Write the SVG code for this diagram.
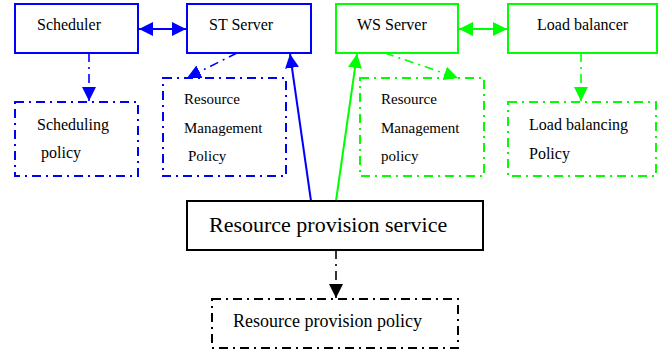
<svg xmlns="http://www.w3.org/2000/svg" width="666" height="354" viewBox="0 0 666 354">
<style>
text{font-family:"Liberation Serif","Times New Roman",serif;fill:#000}
.t{font-size:16px}
.s{font-size:15px}
.box{fill:#fff;stroke-width:2}
.dd{fill:none;stroke-width:2;stroke-dasharray:9 5 2 5}
.b{stroke:#0000ff}
.g{stroke:#00ff00}
.k{stroke:#000}
.ln{fill:none;stroke-width:2}
.ld{fill:none;stroke-width:1.6;stroke-dasharray:9 5 2 5}
</style>
<defs>
<marker id="ab" viewBox="0 0 14 14" markerWidth="14" markerHeight="14" refX="14" refY="7" orient="auto-start-reverse" markerUnits="userSpaceOnUse"><path d="M0,0 L14,7 L0,14 Z" fill="#0000ff"/></marker>
<marker id="ag" viewBox="0 0 14 14" markerWidth="14" markerHeight="14" refX="14" refY="7" orient="auto-start-reverse" markerUnits="userSpaceOnUse"><path d="M0,0 L14,7 L0,14 Z" fill="#00ff00"/></marker>
<marker id="ak" viewBox="0 0 14 14" markerWidth="14" markerHeight="14" refX="14" refY="7" orient="auto-start-reverse" markerUnits="userSpaceOnUse"><path d="M0,0 L14,7 L0,14 Z" fill="#000"/></marker>
</defs>
<g id="connectors">
<line class="ln b" x1="139" y1="29" x2="186" y2="29" marker-start="url(#ab)" marker-end="url(#ab)"/>
<line class="ld b" x1="89" y1="53" x2="89" y2="101" marker-end="url(#ab)"/>
<line class="ld b" x1="237" y1="53" x2="187" y2="78" marker-end="url(#ab)"/>
<line class="ln b" x1="311" y1="201" x2="290" y2="54" marker-end="url(#ab)"/>
<line class="ln g" x1="459" y1="29" x2="507" y2="29" marker-start="url(#ag)" marker-end="url(#ag)"/>
<line class="ld g" x1="385" y1="53" x2="458" y2="78" marker-end="url(#ag)"/>
<line class="ld g" x1="581" y1="53" x2="581" y2="101" marker-end="url(#ag)"/>
<line class="ln g" x1="336" y1="201" x2="357" y2="54" marker-end="url(#ag)"/>
<line class="ld k" x1="336" y1="250" x2="336" y2="298" marker-end="url(#ak)"/>
</g>
<g id="scheduler"><rect class="box b" x="15" y="4" width="123" height="49"/><text class="t" x="37" y="30">Scheduler</text></g>
<g id="st-server"><rect class="box b" x="187" y="4" width="124" height="49"/><text class="t" x="209" y="30">ST Server</text></g>
<g id="scheduling-policy"><rect class="dd b" x="15" y="102" width="123" height="74"/><text class="t" x="37" y="130">Scheduling</text><text class="t" x="41" y="158">policy</text></g>
<g id="rm-policy-st"><rect class="dd b" x="163" y="78" width="123" height="98"/><text class="s" x="184" y="104">Resource</text><text class="s" x="184" y="133">Management</text><text class="s" x="188" y="161">Policy</text></g>
<g id="ws-server"><rect class="box g" x="336" y="4" width="122" height="49"/><text class="t" x="357" y="30">WS Server</text></g>
<g id="load-balancer"><rect class="box g" x="508" y="4" width="149" height="49"/><text class="t" x="537" y="30">Load balancer</text></g>
<g id="rm-policy-ws"><rect class="dd g" x="360" y="78" width="124" height="98"/><text class="s" x="381" y="104">Resource</text><text class="s" x="381" y="133">Management</text><text class="s" x="381" y="161">policy</text></g>
<g id="lb-policy"><rect class="dd g" x="508" y="102" width="148" height="74"/><text class="t" x="529" y="130">Load balancing</text><text class="t" x="529" y="159">Policy</text></g>
<g id="rps"><rect class="box k" x="187" y="201" width="296" height="49"/><text x="209" y="232" font-size="22">Resource provision service</text></g>
<g id="rpp"><rect class="dd k" x="212" y="299" width="246" height="49"/><text x="233" y="327" font-size="18">Resource provision policy</text></g>
</svg>
